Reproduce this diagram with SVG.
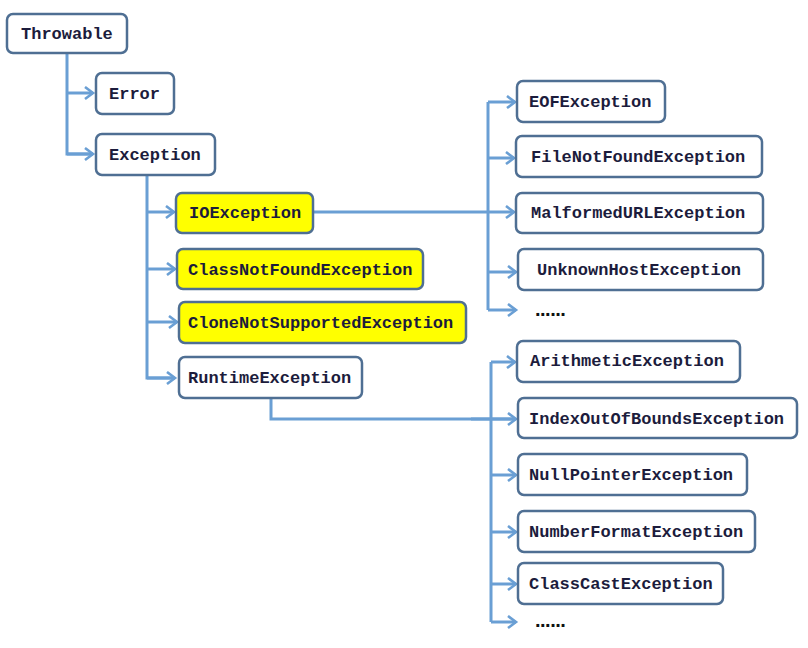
<svg xmlns="http://www.w3.org/2000/svg" width="808" height="648" viewBox="0 0 808 648">
<defs>
<marker id="arr" markerUnits="userSpaceOnUse" markerWidth="14" markerHeight="16" refX="9" refY="7" orient="auto">
<path d="M1,1 L9,7 L1,13" fill="none" stroke="#6a9fd4" stroke-width="2.6"/>
</marker>
</defs>
<style>
.box{fill:#ffffff;stroke:#4f6f93;stroke-width:2.5}
.hl{fill:#ffff00}
.t{font-family:"Liberation Mono","Courier New",monospace;font-weight:bold;font-size:17px;fill:#1c1c3c}
.d{font-family:"Liberation Sans",Arial,sans-serif;font-weight:bold;font-size:20px;fill:#111111;letter-spacing:-0.5px}
.c{fill:none;stroke:#6a9fd4;stroke-width:3}
.a{marker-end:url(#arr)}
</style>
<rect width="808" height="648" fill="#ffffff"/>
<g id="connectors">
<path class="c" d="M67,53 V154 H93"/>
<path class="c a" d="M67,154 H93"/>
<path class="c a" d="M67,93 H93"/>
<path class="c" d="M147,175 V378 H174"/>
<path class="c a" d="M147,378 H175"/>
<path class="c a" d="M147,212 H174"/>
<path class="c a" d="M147,269 H175"/>
<path class="c a" d="M147,322 H177"/>
<path class="c a" d="M313,212 H514"/>
<path class="c" d="M488,102 V310"/>
<path class="c a" d="M488,102 H515"/>
<path class="c a" d="M488,158 H514"/>
<path class="c a" d="M488,272 H516"/>
<path class="c a" d="M488,310 H516"/>
<path class="c" d="M271,398 V419 H515"/>
<path class="c a" d="M471,419 H516"/>
<path class="c" d="M491,362 V622"/>
<path class="c a" d="M491,362 H515"/>
<path class="c a" d="M491,475 H516"/>
<path class="c a" d="M491,532 H516"/>
<path class="c a" d="M491,584 H516"/>
<path class="c a" d="M491,622 H516"/>
</g>
<g id="n-throwable"><rect class="box" x="7" y="14" width="120" height="39" rx="6"/><text class="t" x="21" y="39">Throwable</text></g>
<g id="n-error"><rect class="box" x="96" y="73" width="78" height="41" rx="6"/><text class="t" x="109" y="99">Error</text></g>
<g id="n-exception"><rect class="box" x="96" y="134" width="119" height="41" rx="6"/><text class="t" x="109" y="160">Exception</text></g>
<g id="n-ioexception"><rect class="box hl" x="176" y="193" width="137" height="40" rx="6"/><text class="t" x="189" y="218">IOException</text></g>
<g id="n-classnotfound"><rect class="box hl" x="177" y="249" width="246" height="40" rx="6"/><text class="t" x="188" y="275">ClassNotFoundException</text></g>
<g id="n-clonenotsupported"><rect class="box hl" x="179" y="302" width="287" height="41" rx="6"/><text class="t" x="188" y="328">CloneNotSupportedException</text></g>
<g id="n-runtime"><rect class="box" x="179" y="357" width="183" height="41" rx="6"/><text class="t" x="188" y="383">RuntimeException</text></g>
<g id="n-eof"><rect class="box" x="517" y="81" width="148" height="41" rx="6"/><text class="t" x="529" y="107">EOFException</text></g>
<g id="n-filenotfound"><rect class="box" x="516" y="136" width="246" height="41" rx="6"/><text class="t" x="531" y="162">FileNotFoundException</text></g>
<g id="n-malformedurl"><rect class="box" x="516" y="193" width="247" height="40" rx="6"/><text class="t" x="531" y="218">MalformedURLException</text></g>
<g id="n-unknownhost"><rect class="box" x="518" y="249" width="245" height="41" rx="6"/><text class="t" x="537" y="275">UnknownHostException</text></g>
<g id="n-io-more"><text class="d" x="535" y="316">......</text></g>
<g id="n-arithmetic"><rect class="box" x="517" y="341" width="223" height="41" rx="6"/><text class="t" x="530" y="366">ArithmeticException</text></g>
<g id="n-indexoutofbounds"><rect class="box" x="518" y="398" width="279" height="40" rx="6"/><text class="t" x="529" y="424">IndexOutOfBoundsException</text></g>
<g id="n-nullpointer"><rect class="box" x="518" y="454" width="229" height="41" rx="6"/><text class="t" x="529" y="480">NullPointerException</text></g>
<g id="n-numberformat"><rect class="box" x="518" y="511" width="237" height="41" rx="6"/><text class="t" x="529" y="537">NumberFormatException</text></g>
<g id="n-classcast"><rect class="box" x="518" y="563" width="205" height="41" rx="6"/><text class="t" x="529" y="589">ClassCastException</text></g>
<g id="n-runtime-more"><text class="d" x="535" y="627">......</text></g>
</svg>
